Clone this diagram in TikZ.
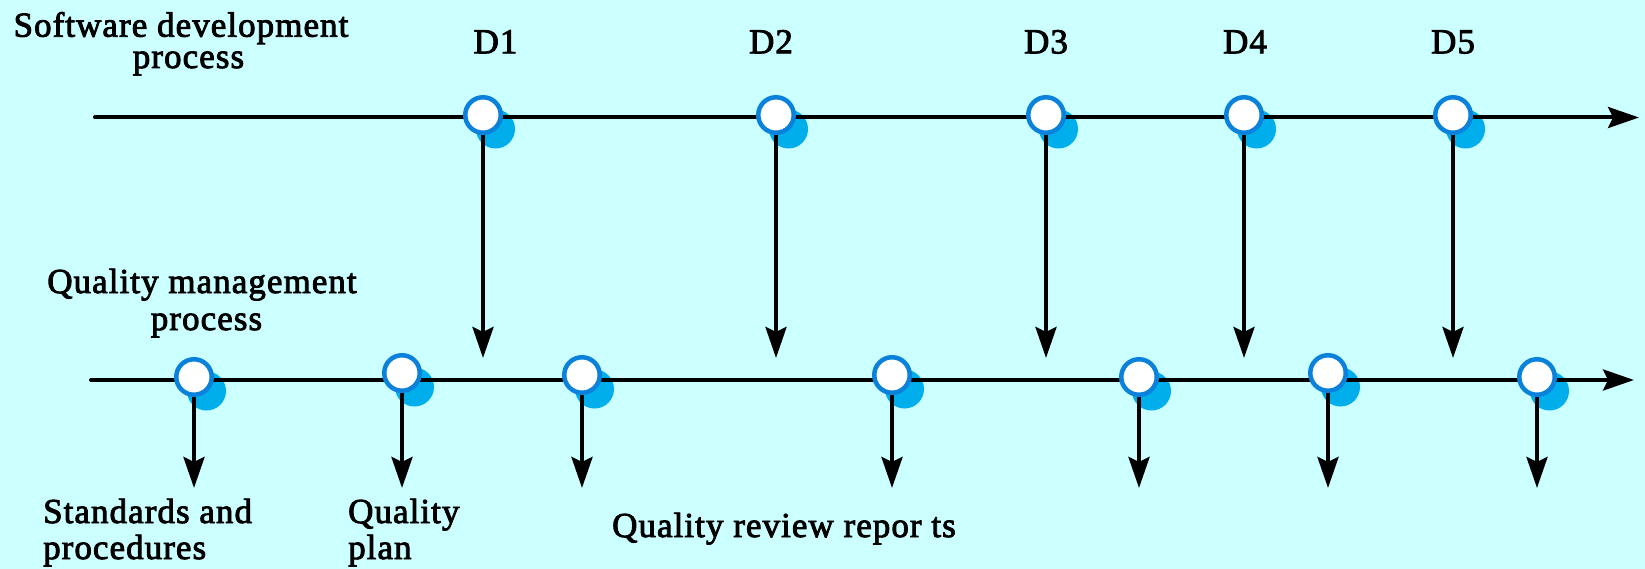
\documentclass[tikz,border=0pt]{standalone}
\usepackage{fontspec}
\setmainfont{Liberation Serif}
\newfontfamily\labelfont[FakeBold=2.5,LetterSpace=3]{Liberation Serif}
\usetikzlibrary{arrows.meta}
\definecolor{bgcyan}{RGB}{204,255,255}
\definecolor{ringblue}{RGB}{10,130,220}
\definecolor{haloblue}{RGB}{0,174,236}
\pgfdeclarelayer{bg}
\pgfdeclarelayer{back}
\pgfsetlayers{bg,back,main}
\begin{document}
\begin{tikzpicture}[x=1pt,y=-1pt,
  milestone/.style={circle, draw=ringblue, line width=4.5pt, fill=white,
                    minimum size=35.5pt, inner sep=0pt},
  halo/.style={circle, fill=haloblue, minimum size=39pt, inner sep=0pt},
  conn/.style={line width=4pt, line cap=round,
               -{Stealth[length=31pt,width=21pt,inset=5pt]}},
  txt/.style={font=\labelfont\fontsize{35}{40}\selectfont, inner sep=0pt}
]
\begin{pgfonlayer}{bg}
  \fill[bgcyan] (0,0) rectangle (1645,569);
\end{pgfonlayer}
\useasboundingbox (0,0) rectangle (1645,569);

% titles of the two processes
\node[txt, anchor=base] (swa) at (181,36.7) {Software development};
\node[txt, anchor=base] (swb) at (188.5,68) {process};
\node[txt, anchor=base] (qma) at (202,293) {Quality management};
\node[txt, anchor=base] (qmb) at (206.5,330) {process};

% deliverables of the development process
\foreach \n/\x/\lx in {1/483/495.5, 2/776/771, 3/1046/1046, 4/1244/1245, 5/1453/1453} {
  \node[txt, anchor=base] (dl\n) at (\lx,53.3) {D\n};
  \node[milestone] (d\n) at (\x,115) {};
  \coordinate (dt\n) at (\x,358);
}

% quality management milestones
\foreach \n/\x/\y in {1/194/377, 2/402/373, 3/582/375, 4/892/375, 5/1139/377, 6/1328/373, 7/1537/377} {
  \node[milestone] (q\n) at (\x,\y) {};
  \coordinate (qt\n) at (\x,488);
}

% outputs of quality management
\node[txt, anchor=base west] (sa) at (43,523) {Standards and};
\node[txt, anchor=base west] (sb) at (43,559) {procedures};
\node[txt, anchor=base west] (pa) at (348,523) {Quality};
\node[txt, anchor=base west] (pb) at (348,559) {plan};
\node[txt, anchor=base west] (rr) at (612,537) {Quality review repor ts};

\coordinate (top0) at (95,117.5);
\coordinate (top1) at (1639,117.5);
\coordinate (bot0) at (91,380);
\coordinate (bot1) at (1634,380);

\begin{pgfonlayer}{back}
  % offset shadows behind every milestone
  \foreach \m in {d1,d2,d3,d4,d5,q1,q2,q3,q4,q5,q6,q7}
    \node[halo] at ([xshift=12.5pt,yshift=-14pt]\m.center) {};
  % time lines
  \draw[conn] (top0) -- (top1);
  \draw[conn] (bot0) -- (bot1);
  % hand-over from development to quality management
  \foreach \n in {1,...,5}
    \draw[conn] (d\n.center) -- (dt\n);
  % documents produced
  \foreach \n in {1,...,7}
    \draw[conn] (q\n.center) -- (qt\n);
\end{pgfonlayer}
\end{tikzpicture}
\end{document}
